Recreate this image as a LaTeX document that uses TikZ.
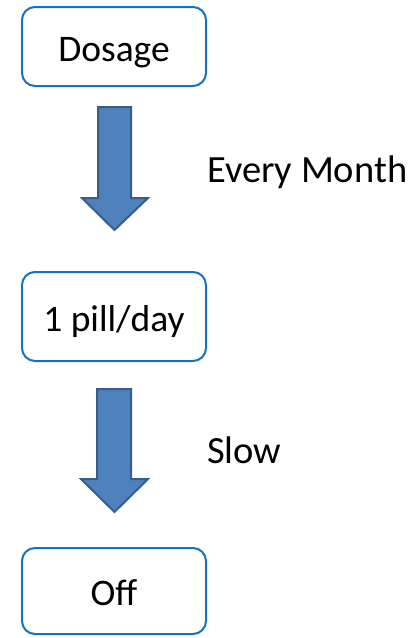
\documentclass[tikz,border=0pt]{standalone}
\usepackage{fontspec}
\setmainfont{Carlito}
\definecolor{boxline}{RGB}{20,114,196}
\definecolor{arrowfill}{RGB}{79,129,189}
\definecolor{arrowline}{RGB}{56,93,138}
\begin{document}
\begin{tikzpicture}[x=1pt,y=-1pt,
  stagebox/.style={draw=boxline,line width=2pt,rounded corners=13pt,fill=white,
    minimum width=184pt,inner sep=0pt,text height=29pt,text depth=0pt,
    font=\fontsize{37.5}{40}\selectfont},
  blockarrow/.style={fill=arrowfill,draw=arrowline,line width=2pt,line join=miter},
  steplabel/.style={inner sep=0pt,anchor=base west,font=\fontsize{38.5}{42}\selectfont}]
\useasboundingbox (0,0) rectangle (417,638);
% stages
\node[stagebox,minimum height=79pt] (dosage) at (114,46.5) {Dosage};
\node[stagebox,minimum height=89pt] (pill) at (114,316.5) {1 pill/day};
\node[stagebox,minimum height=86pt] (off) at (114,591) {Off};
% block arrows between the stages
\coordinate (a1) at (114.5,107);
\coordinate (a2) at (114,389);
\draw[blockarrow] (a1) ++(-16.5,0) -- ++(0,91) -- ++(-16,0) -- (114.5,230) -- (148,198) -- (131,198) -- (131,107) -- cycle;
\draw[blockarrow] (a2) ++(-17,0) -- ++(0,90) -- ++(-16,0) -- (114.5,512) -- (148,479) -- (131,479) -- (131,389) -- cycle;
% labels
\node[steplabel] (lbl1) at (207,182) {Every Month};
\node[steplabel] (lbl2) at (207,463) {Slow};
\end{tikzpicture}
\end{document}
